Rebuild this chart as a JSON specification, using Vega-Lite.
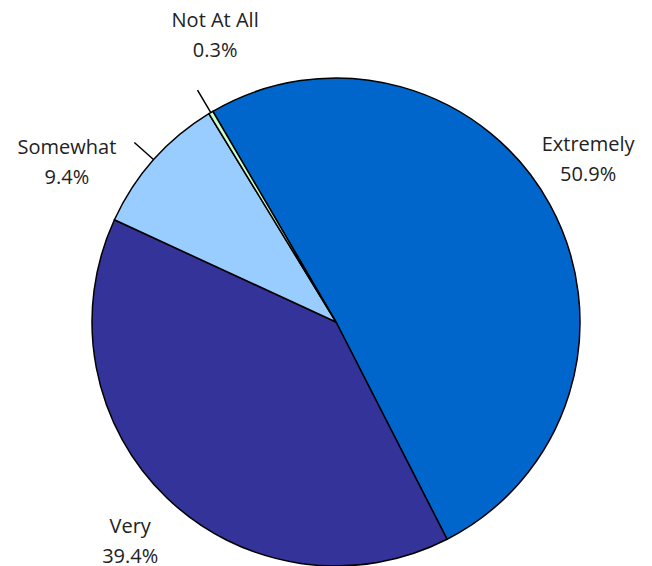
{
  "$schema": "https://vega.github.io/schema/vega-lite/v6.json",
  "autosize": "none",
  "width": 632,
  "height": 488,
  "padding": {"left": 20, "top": 78, "right": 0, "bottom": 0},
  "background": "white",
  "view": {"stroke": null},
  "data": {"values": [
    {"category": "Extremely", "value": 50.9, "order": 1, "label": "Extremely\n50.9%"},
    {"category": "Very", "value": 39.4, "order": 2, "label": "Very\n39.4%"},
    {"category": "Somewhat", "value": 9.4, "order": 3, "label": "Somewhat\n9.4%"},
    {"category": "Not At All", "value": 0.3, "order": 4, "label": "Not At All\n0.3%"}
  ]},
  "encoding": {
    "theta": {"field": "value", "type": "quantitative", "stack": true, "scale": {"domain": [0, 100], "range": [-0.529, 5.754]}},
    "order": {"field": "order", "type": "quantitative"}
  },
  "layer": [
    {
      "mark": {"type": "arc", "outerRadius": 244, "stroke": "black", "strokeWidth": 1.5},
      "encoding": {
        "color": {"field": "category", "type": "nominal", "legend": null,
          "scale": {"domain": ["Extremely", "Very", "Somewhat", "Not At All"], "range": ["#0066CC", "#333399", "#99CCFF", "#CCFFCC"]}}
      }
    },
    {
      "mark": {"type": "arc", "innerRadius": 244, "outerRadius": 270, "padAngle": 1.5, "fillOpacity": 0, "stroke": "black", "strokeWidth": 1.5},
      "encoding": {
        "strokeOpacity": {"condition": {"test": "datum.category == 'Somewhat' || datum.category == 'Not At All'", "value": 1}, "value": 0}
      }
    },
    {
      "mark": {"type": "text", "radius": 300, "dx": -11, "dy": -33, "font": "Open Sans", "fontSize": 20, "lineHeight": 30, "lineBreak": "\n", "baseline": "middle", "align": "center", "color": "#222222"},
      "encoding": {"text": {"condition": {"test": "datum.category == 'Extremely'", "field": "label"}, "value": ""}}
    },
    {
      "mark": {"type": "text", "radius": 300, "dx": 2, "dy": -11, "font": "Open Sans", "fontSize": 20, "lineHeight": 30, "lineBreak": "\n", "baseline": "middle", "align": "center", "color": "#222222"},
      "encoding": {"text": {"condition": {"test": "datum.category == 'Very'", "field": "label"}, "value": ""}}
    },
    {
      "mark": {"type": "text", "radius": 300, "dx": -45, "dy": 25, "font": "Open Sans", "fontSize": 20, "lineHeight": 30, "lineBreak": "\n", "baseline": "middle", "align": "center", "color": "#222222"},
      "encoding": {"text": {"condition": {"test": "datum.category == 'Somewhat'", "field": "label"}, "value": ""}}
    },
    {
      "mark": {"type": "text", "radius": 300, "dx": 33, "dy": -43, "font": "Open Sans", "fontSize": 20, "lineHeight": 30, "lineBreak": "\n", "baseline": "middle", "align": "center", "color": "#222222"},
      "encoding": {"text": {"condition": {"test": "datum.category == 'Not At All'", "field": "label"}, "value": ""}}
    }
  ]
}
